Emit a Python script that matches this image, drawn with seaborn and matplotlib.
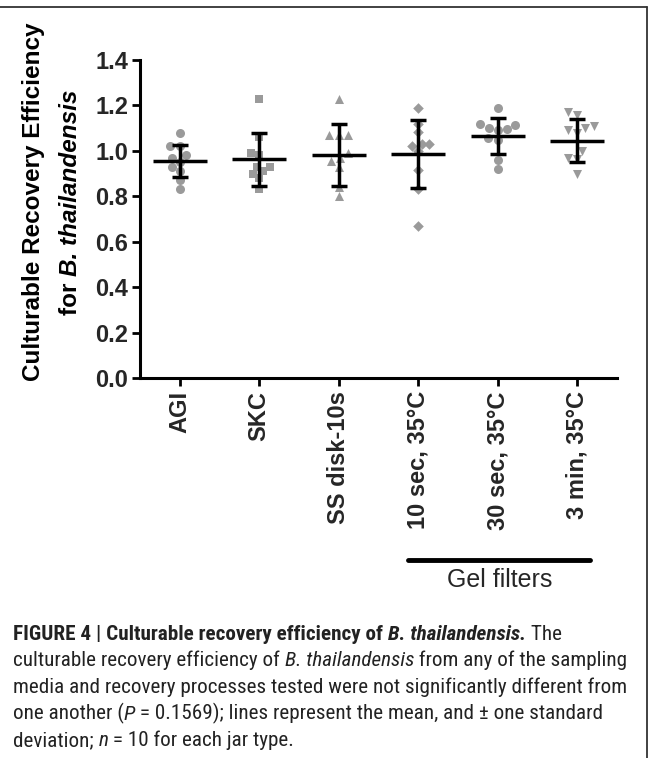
import numpy as np
import pandas as pd
import matplotlib
matplotlib.use("Agg")
import matplotlib.pyplot as plt
from matplotlib import font_manager
from matplotlib.lines import Line2D
import seaborn as sns

# ---------------- data ----------------
categories = ["AGI", "SKC", "SS disk-10s", "10 sec, 35°C", "30 sec, 35°C", "3 min, 35°C"]
agi = [1.08, 1.02, 1.02, 0.98, 0.97, 0.95, 0.93, 0.91, 0.87, 0.83]
skc = [1.23, 1.06, 0.99, 0.98, 0.93, 0.93, 0.91, 0.90, 0.88, 0.83]
ss_disk = [1.23, 1.07, 1.07, 1.07, 0.99, 0.97, 0.955, 0.93, 0.84, 0.80]
gel_10s = [1.19, 1.12, 1.085, 1.03, 1.03, 1.02, 1.00, 0.916, 0.83, 0.67]
gel_30s = [1.19, 1.12, 1.115, 1.10, 1.095, 1.09, 1.058, 1.05, 0.96, 0.92]
gel_3m = [1.17, 1.16, 1.11, 1.10, 1.09, 1.078, 1.00, 0.968, 0.965, 0.90]
means = [0.955, 0.962, 0.982, 0.985, 1.065, 1.045]
sds = [0.0715, 0.1165, 0.135, 0.15, 0.0805, 0.0955]
markers = ["o", "s", "^", "D", "o", "v"]
y_ticks = [0.0, 0.2, 0.4, 0.6, 0.8, 1.0, 1.2, 1.4]

series = [agi, skc, ss_disk, gel_10s, gel_30s, gel_3m]
df = pd.DataFrame({
    "group": np.repeat(categories, [len(s) for s in series]),
    "value": np.concatenate(series),
})

# ---------------- style ----------------
sns.set_style("ticks")
plt.rcParams["font.family"] = ["Liberation Sans", "DejaVu Sans"]

W, H = 652, 758
fig = plt.figure(figsize=(W / 100, H / 100), dpi=100)
fig.patch.set_facecolor("white")


def fx(px):
    return px / W


def fy(py):
    return 1 - py / H


ax_l, ax_r, ax_t, ax_b = 140, 617, 60, 378
ax = fig.add_axes([fx(ax_l), fy(ax_b), (ax_r - ax_l) / W, (ax_b - ax_t) / H])

grey = "#9a9a9a"
marker_sizes = {"o": 6.5, "s": 5.6, "^": 6.5, "D": 5.4, "v": 6.5}
for cat, m in zip(categories, markers):
    sub = df[df["group"] == cat]
    sns.swarmplot(data=sub, x="group", y="value", order=categories, marker=m,
                  color=grey, size=marker_sizes[m], linewidth=0,
                  ax=ax, zorder=1)

xs = np.arange(len(categories))
ax.hlines(means, xs - 0.34, xs + 0.34, colors="black", linewidth=2.5, zorder=3)
ax.errorbar(xs, means, yerr=sds, fmt="none", ecolor="black", elinewidth=2.5,
            capsize=5.8, capthick=2.5, zorder=3)

ax.set_xlim(-0.5, 5.5)
ax.set_ylim(0, 1.4)
ax.set_yticks(y_ticks)
ax.set_yticklabels([f"{v:.1f}" for v in y_ticks], fontsize=17, fontweight="bold")
ax.set_xticks(xs)
ax.set_xticklabels(categories, rotation=90, fontsize=17, fontweight="bold")
ax.set_xlabel("")
ax.set_ylabel("")
for s in ["top", "right"]:
    ax.spines[s].set_visible(False)
for s in ["left", "bottom"]:
    ax.spines[s].set_linewidth(2.2)
    ax.spines[s].set_color("black")
ax.tick_params(axis="both", direction="out", length=5.5, width=2.0, color="black")
ax.tick_params(axis="y", pad=3)
ax.tick_params(axis="x", pad=4)
ax.set_facecolor("white")

# Gel filters bracket
trans = ax.get_xaxis_transform()
gy = (ax_b - 560) / (ax_b - ax_t)
ax.plot([2.87, 5.16], [gy, gy], transform=trans, color="black", lw=3.5,
        clip_on=False, solid_capstyle="round")
ty = (ax_b - 580) / (ax_b - ax_t)
ax.text(4.02, ty, "Gel filters", transform=trans, ha="center", va="center",
        fontsize=18)

# ---------------- rich text helpers ----------------
renderer = fig.canvas.get_renderer()


def seg_width(txt, **kw):
    t1 = fig.text(0, 0, "|" + txt + "|", **kw)
    t2 = fig.text(0, 0, "||", **kw)
    w = t1.get_window_extent(renderer).width - t2.get_window_extent(renderer).width
    t1.remove()
    t2.remove()
    return w


def rich(x_px, y_px, segs, size, family, rotation=0, center=False, color="black", va="baseline"):
    kws = [dict(fontsize=size, fontweight=w, fontstyle=st, family=family) for _, w, st in segs]
    widths = [seg_width(s, **k) for (s, _, _), k in zip(segs, kws)]
    total = sum(widths)
    pos = -total / 2 if center else 0.0
    for (s, _, _), k, wd in zip(segs, kws, widths):
        if rotation == 0:
            fig.text(fx(x_px + pos), fy(y_px), s, ha="left", va=va, color=color, **k)
        else:
            fig.text(fx(x_px), fy(y_px - pos), s, rotation=90, rotation_mode="anchor",
                     ha="left", va=va, color=color, **k)
        pos += wd
    return total


lab_family = ["Liberation Sans", "DejaVu Sans"]
rich(40, 202, [("Culturable Recovery Efficiency", "bold", "normal")], 17.5,
     lab_family, rotation=90, center=True)
rich(77, 202, [("for ", "bold", "normal"), ("B. thailandensis", "bold", "italic")], 17.5,
     lab_family, rotation=90, center=True)

# ---------------- caption ----------------
avail = {f.name for f in font_manager.fontManager.ttflist}
cap_family = "Liberation Sans"
for cand in ["Liberation Sans Narrow", "DejaVu Sans Condensed", "Roboto Condensed",
             "Open Sans Condensed", "Roboto"]:
    if cand in avail:
        cap_family = cand
        break
cap_family = [cap_family, "DejaVu Sans"]

ref_line = "media and recovery processes tested were not significantly different from"
w10 = seg_width(ref_line, fontsize=10, family=cap_family)
cap_size = 10 * 608 / w10

N, B, I, BI = ("normal", "normal"), ("bold", "normal"), ("normal", "italic"), ("bold", "italic")
cap_lines = [
    [("FIGURE 4 | Culturable recovery efficiency of ",) + B, ("B. thailandensis.",) + BI, (" The",) + N],
    [("culturable recovery efficiency of ",) + N, ("B. thailandensis",) + I, (" from any of the sampling",) + N],
    [(ref_line,) + N],
    [("one another (",) + N, ("P",) + I, (" = 0.1569); lines represent the mean, and ± one standard",) + N],
    [("deviation; ",) + N, ("n",) + I, (" = 10 for each jar type.",) + N],
]
baselines = [640, 666.5, 693, 719.5, 746]
for segs, by in zip(cap_lines, baselines):
    rich(13, by, segs, cap_size, cap_family, color="#222222")

# ---------------- frame ----------------
fig.add_artist(Line2D([0, fx(647)], [fy(7), fy(7)], transform=fig.transFigure,
                      color="#333333", lw=1.3))
fig.add_artist(Line2D([fx(647), fx(647)], [fy(7), 0], transform=fig.transFigure,
                      color="#333333", lw=1.3))

fig.savefig("out.png", dpi=100)
